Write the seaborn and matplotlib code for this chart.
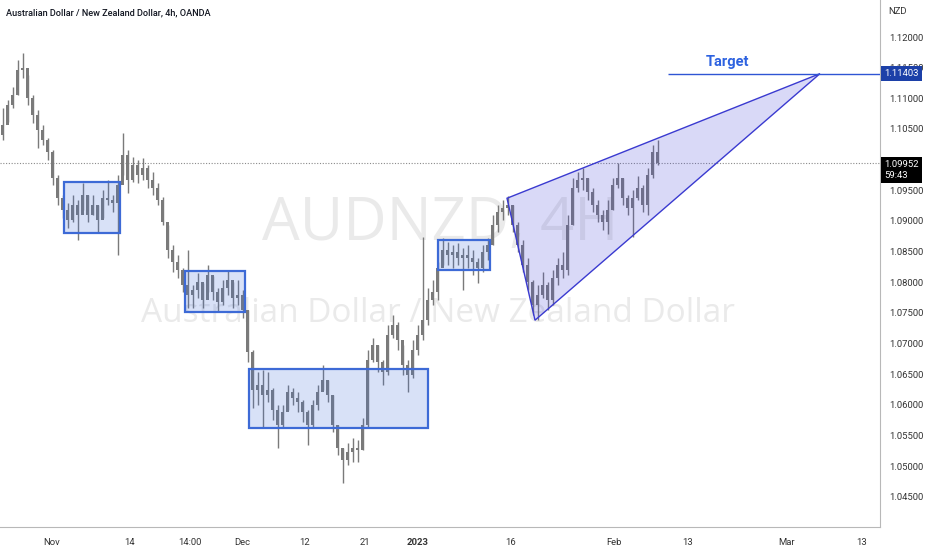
import numpy as np
import pandas as pd
import matplotlib
matplotlib.use("Agg")
import matplotlib.pyplot as plt
import seaborn as sns
from matplotlib.patches import Rectangle, Polygon

# AUDNZD 4h candles (thinned)
first_open = 1.1040
highs = [1.1084, 1.1097, 1.1119, 1.1163, 1.1174, 1.1138, 1.1105, 1.1081, 1.1057, 1.1035,
         1.1016, 1.0975, 1.0942, 1.0929, 1.0942, 1.0934, 1.0962, 1.0942, 1.0942, 1.0926,
         1.0951, 1.0967, 1.0942, 1.0975, 1.1043, 1.1016, 1.1004, 1.0999, 1.1003, 1.0991,
         1.0980, 1.0962, 1.0939, 1.0893, 1.0861, 1.0844, 1.0823, 1.0853, 1.0796, 1.0815,
         1.0799, 1.0828, 1.0810, 1.0791, 1.0804, 1.0820, 1.0800, 1.0804, 1.0787, 1.0755,
         1.0689, 1.0654, 1.0657, 1.0654, 1.0628, 1.0600, 1.0600, 1.0632, 1.0628, 1.0621,
         1.0608, 1.0592, 1.0608, 1.0632, 1.0665, 1.0641, 1.0616, 1.0567, 1.0530, 1.0538,
         1.0546, 1.0543, 1.0579, 1.0689, 1.0709, 1.0698, 1.0673, 1.0730, 1.0747, 1.0735,
         1.0698, 1.0673, 1.0706, 1.0730, 1.0874, 1.0791, 1.0804, 1.0833, 1.0872, 1.0866,
         1.0861, 1.0864, 1.0856, 1.0861, 1.0853, 1.0840, 1.0861, 1.0872, 1.0910, 1.0926,
         1.0934, 1.0941, 1.0926, 1.0898, 1.0869, 1.0840, 1.0804, 1.0796, 1.0817, 1.0800,
         1.0820, 1.0840, 1.0849, 1.0910, 1.0970, 1.0980, 1.0986, 1.0970, 1.0954, 1.0934,
         1.0918, 1.0934, 1.0970, 1.0995, 1.0970, 1.0942, 1.0951, 1.0973, 1.0959, 1.0986,
         1.1024, 1.1032]
lows = [1.1032, 1.1061, 1.1084, 1.1105, 1.1133, 1.1089, 1.1060, 1.1019, 1.1024, 1.0999,
        1.0959, 1.0926, 1.0905, 1.0889, 1.0898, 1.0869, 1.0918, 1.0898, 1.0910, 1.0882,
        1.0905, 1.0926, 1.0915, 1.0844, 1.0975, 1.0946, 1.0964, 1.0962, 1.0967, 1.0954,
        1.0942, 1.0926, 1.0893, 1.0840, 1.0817, 1.0807, 1.0784, 1.0758, 1.0758, 1.0774,
        1.0758, 1.0784, 1.0771, 1.0751, 1.0763, 1.0779, 1.0758, 1.0763, 1.0742, 1.0670,
        1.0595, 1.0600, 1.0562, 1.0605, 1.0575, 1.0530, 1.0562, 1.0592, 1.0600, 1.0588,
        1.0572, 1.0535, 1.0562, 1.0592, 1.0624, 1.0605, 1.0556, 1.0518, 1.0473, 1.0502,
        1.0507, 1.0507, 1.0526, 1.0562, 1.0670, 1.0654, 1.0632, 1.0649, 1.0709, 1.0689,
        1.0649, 1.0621, 1.0644, 1.0681, 1.0706, 1.0730, 1.0763, 1.0771, 1.0828, 1.0828,
        1.0823, 1.0828, 1.0787, 1.0823, 1.0812, 1.0799, 1.0817, 1.0836, 1.0861, 1.0882,
        1.0902, 1.0910, 1.0882, 1.0849, 1.0817, 1.0787, 1.0747, 1.0738, 1.0774, 1.0755,
        1.0763, 1.0796, 1.0807, 1.0812, 1.0893, 1.0947, 1.0951, 1.0934, 1.0915, 1.0898,
        1.0885, 1.0879, 1.0918, 1.0954, 1.0926, 1.0910, 1.0874, 1.0934, 1.0915, 1.0910,
        1.0970, 1.0991]
closes = [1.1057, 1.1089, 1.1105, 1.1146, 1.1150, 1.1101, 1.1073, 1.1048, 1.1032, 1.1012,
          1.0970, 1.0937, 1.0918, 1.0902, 1.0926, 1.0910, 1.0942, 1.0910, 1.0926, 1.0902,
          1.0937, 1.0934, 1.0929, 1.0959, 1.1008, 1.0967, 1.0991, 1.0975, 1.0986, 1.0967,
          1.0954, 1.0934, 1.0898, 1.0853, 1.0833, 1.0820, 1.0796, 1.0779, 1.0787, 1.0800,
          1.0771, 1.0812, 1.0784, 1.0768, 1.0791, 1.0804, 1.0774, 1.0779, 1.0755, 1.0686,
          1.0624, 1.0632, 1.0616, 1.0624, 1.0592, 1.0567, 1.0588, 1.0621, 1.0611, 1.0605,
          1.0588, 1.0567, 1.0600, 1.0621, 1.0641, 1.0616, 1.0567, 1.0530, 1.0510, 1.0523,
          1.0530, 1.0526, 1.0567, 1.0673, 1.0698, 1.0670, 1.0654, 1.0714, 1.0730, 1.0706,
          1.0665, 1.0649, 1.0689, 1.0714, 1.0738, 1.0771, 1.0784, 1.0823, 1.0853, 1.0844,
          1.0849, 1.0840, 1.0844, 1.0840, 1.0833, 1.0823, 1.0849, 1.0861, 1.0893, 1.0915,
          1.0921, 1.0926, 1.0893, 1.0861, 1.0828, 1.0800, 1.0763, 1.0779, 1.0796, 1.0771,
          1.0807, 1.0828, 1.0820, 1.0893, 1.0954, 1.0967, 1.0970, 1.0947, 1.0926, 1.0910,
          1.0898, 1.0918, 1.0959, 1.0970, 1.0937, 1.0921, 1.0937, 1.0954, 1.0926, 1.0975,
          1.1012, 1.09952]

date_labels = ["Nov", "14", "14:00", "Dec", "12", "21", "2023", "16", "Feb", "13", "Mar", "13"]
# 1.10000 sits under the live-price tag in the original, so it is not listed
price_ticks = [1.045, 1.050, 1.055, 1.060, 1.065, 1.070, 1.075, 1.080, 1.085,
               1.090, 1.095, 1.105, 1.110, 1.115, 1.120]
last_price = 1.09952
target_price = 1.11403

# zones (bar index span, price range) and the rising wedge
zones = [(12.3, 23.5, 1.0880, 1.0963),
         (36.5, 48.5, 1.0751, 1.0818),
         (49.3, 85.1, 1.0562, 1.0658),
         (87.1, 97.5, 1.0820, 1.0869)]
wedge = [(100.9, 1.0937), (106.5, 1.0738), (163.5, target_price)]

# layout: where the date labels sit, in bar units
date_pos = [9.9, 25.5, 37.5, 47.9, 60.5, 72.5, 83.1, 101.7, 122.3, 137.1, 156.9, 171.9]

df = pd.DataFrame({"high": highs, "low": lows, "close": closes})
df["open"] = [first_open] + closes[:-1]
df["i"] = np.arange(len(df))

sns.set_theme(style="white")
plt.rcParams["font.family"] = ["Roboto", "DejaVu Sans"]

fig = plt.figure(figsize=(9.32, 5.5), dpi=100)
ax = fig.add_axes([0, 23 / 550, 880 / 932, 527 / 550])
ax.set_xlim(-0.5, 175.5)
ax.set_ylim(1.04007, 1.12604)

# watermark
ax.text(0.5, 0.575, "AUDNZD, 4H", transform=ax.transAxes, ha="center", va="center",
        fontsize=43, color="#eaeaea", family="Open Sans", zorder=0)
ax.text(0.498, 0.405, "Australian Dollar / New Zealand Dollar", transform=ax.transAxes,
        ha="center", va="center", fontsize=24, color="#eaeaea", family="Open Sans", zorder=0)

# candles
candle_col = "#7a7a7a"
ax.vlines(df["i"], df["low"], df["high"], color=candle_col, lw=1.0, zorder=2)
body_lo = df[["open", "close"]].min(axis=1)
body_h = (df["open"] - df["close"]).abs().clip(lower=0.00008)
ax.bar(df["i"], body_h, bottom=body_lo, width=0.6, color=candle_col, linewidth=0, zorder=2)

# current price line
ax.axhline(last_price, color="#8a8a8a", lw=0.8, ls=(0, (1, 1.5)), zorder=1)

# zones
for x0, x1, p0, p1 in zones:
    ax.add_patch(Rectangle((x0, p0), x1 - x0, p1 - p0, facecolor=(0.24, 0.42, 0.86, 0.2),
                           edgecolor="#3d6ad6", lw=1.6, zorder=3))

# wedge
ax.add_patch(Polygon(wedge, closed=True, facecolor=(0.27, 0.27, 0.85, 0.2),
                     edgecolor="#3a3ad0", lw=1.0, zorder=3))

# target
ax.hlines(target_price, 133.1, 175.5, color="#2f55d4", lw=1.0, zorder=3)
ax.text(144.9, target_price + 0.0007, "Target", color="#2d62e0", fontsize=10.5,
        weight="bold", ha="center", va="bottom", zorder=4)

# axes styling
for s in ["top", "left"]:
    ax.spines[s].set_visible(False)
ax.spines["right"].set_color("#b8b8b8")
ax.spines["bottom"].set_color("#b8b8b8")
ax.spines["right"].set_linewidth(0.8)
ax.spines["bottom"].set_linewidth(0.8)
ax.yaxis.tick_right()
ax.set_yticks(price_ticks)
ax.set_yticklabels([f"{p:.5f}" for p in price_ticks])
ax.set_xticks(date_pos)
ax.set_xticklabels(date_labels)
ax.tick_params(axis="y", length=0, pad=7, labelsize=6.8, labelcolor="#333333")
ax.tick_params(axis="x", length=0, pad=8, labelsize=6.8, labelcolor="#333333")
for lbl in ax.get_xticklabels():
    if lbl.get_text() == "2023":
        lbl.set_fontweight("bold")
ax.grid(False)

# price tags on the scale
ytr = ax.get_yaxis_transform()
ax.text(1.005, target_price, "1.11403", transform=ytr, ha="left", va="center", fontsize=6.8,
        color="white", clip_on=False, zorder=10,
        bbox=dict(boxstyle="square,pad=0.35", fc="#1c40a8", ec="none"))
ax.text(1.005, last_price - 0.0012, "1.09952\n59:43", transform=ytr, ha="left", va="center",
        fontsize=6.8, color="white", linespacing=1.25, clip_on=False, zorder=10,
        bbox=dict(boxstyle="square,pad=0.35", fc="#000000", ec="none"))

fig.text(888 / 932, 1 - 11 / 550, "NZD", fontsize=6.8, color="#333333", va="center")
fig.text(6 / 932, 1 - 13 / 550, "Australian Dollar / New Zealand Dollar, 4h, OANDA",
         fontsize=6.6, color="#131722", va="center", weight="medium")

fig.savefig("out.png", dpi=100)
